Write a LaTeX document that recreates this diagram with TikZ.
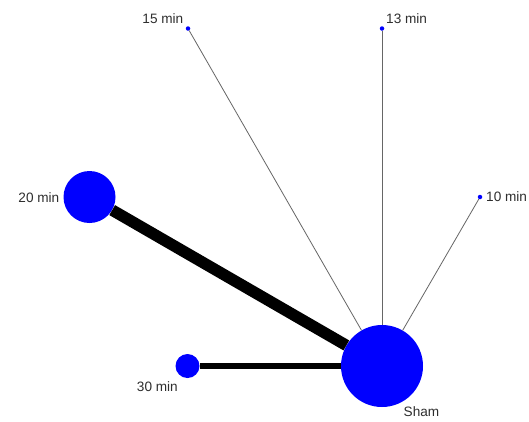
\documentclass[tikz,border=0pt]{standalone}
\usepackage{fontspec}
\setmainfont{Liberation Sans}
\begin{document}
\begin{tikzpicture}[x=1pt,y=-1pt,
  trt/.style={circle,fill=blue,draw=none,inner sep=0pt},
  lbl/.style={inner sep=0pt,font=\fontsize{13.6}{16}\selectfont,text=black!82},
  thin/.style={draw=black!60,line width=0.8pt},
  thick/.style={draw=black,line width=#1pt}]
\useasboundingbox (0,0) rectangle (529,421);
\fill[white] (0,0) rectangle (529,421);
\node[trt,minimum size=82pt] (sham) at (382,366) {};
\node[trt,minimum size=52pt] (m20) at (89.5,197) {};
\node[trt,minimum size=24pt] (m30) at (187.5,366) {};
\node[trt,minimum size=4.5pt] (m15) at (188,28.5) {};
\node[trt,minimum size=4.5pt] (m13) at (382,28.5) {};
\node[trt,minimum size=4.5pt] (m10) at (480,197) {};
\draw[thick=11.5] (m20) -- (sham);
\draw[thick=6.8] (m30) -- (sham);
\draw[thin] (m15) -- (sham);
\draw[thin] (m13) -- (sham);
\draw[thin] (m10) -- (sham);
\node[lbl,anchor=base east] (l15) at (183.5,23) {15 min};
\node[lbl,anchor=base west] (l13) at (386,23) {13 min};
\node[lbl,anchor=base east] (l20) at (59.5,202) {20 min};
\node[lbl,anchor=base west] (l10) at (486,201.5) {10 min};
\node[lbl,anchor=base east] (l30) at (178,391) {30 min};
\node[lbl,anchor=base west] (lsham) at (403.5,416) {Sham};
\end{tikzpicture}
\end{document}
